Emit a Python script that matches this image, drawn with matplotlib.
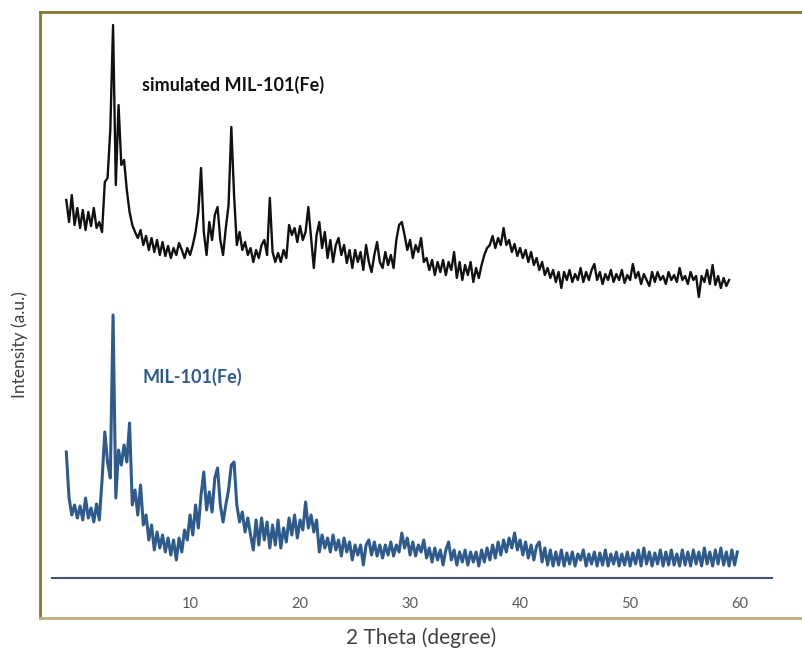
import matplotlib.pyplot as plt
from matplotlib.lines import Line2D

# 2 theta scan positions (degree)
two_theta = [
    -1.25, -1.0, -0.75, -0.5, -0.25, 0.0, 0.25, 0.5, 0.75, 1.0, 1.25, 1.5, 1.75, 2.0, 2.25, 2.5, 2.75, 3.0, 3.25, 3.5,
    3.75, 4.0, 4.25, 4.5, 4.75, 5.0, 5.25, 5.5, 5.75, 6.0, 6.25, 6.5, 6.75, 7.0, 7.25, 7.5, 7.75, 8.0, 8.25, 8.5,
    8.75, 9.0, 9.25, 9.5, 9.75, 10.0, 10.25, 10.5, 10.75, 11.0, 11.25, 11.5, 11.75, 12.0, 12.25, 12.5, 12.75, 13.0, 13.25, 13.5,
    13.75, 14.0, 14.25, 14.5, 14.75, 15.0, 15.25, 15.5, 15.75, 16.0, 16.25, 16.5, 16.75, 17.0, 17.25, 17.5, 17.75, 18.0, 18.25, 18.5,
    18.75, 19.0, 19.25, 19.5, 19.75, 20.0, 20.25, 20.5, 20.75, 21.0, 21.25, 21.5, 21.75, 22.0, 22.25, 22.5, 22.75, 23.0, 23.25, 23.5,
    23.75, 24.0, 24.25, 24.5, 24.75, 25.0, 25.25, 25.5, 25.75, 26.0, 26.25, 26.5, 26.75, 27.0, 27.25, 27.5, 27.75, 28.0, 28.25, 28.5,
    28.75, 29.0, 29.25, 29.5, 29.75, 30.0, 30.25, 30.5, 30.75, 31.0, 31.25, 31.5, 31.75, 32.0, 32.25, 32.5, 32.75, 33.0, 33.25, 33.5,
    33.75, 34.0, 34.25, 34.5, 34.75, 35.0, 35.25, 35.5, 35.75, 36.0, 36.25, 36.5, 36.75, 37.0, 37.25, 37.5, 37.75, 38.0, 38.25, 38.5,
    38.75, 39.0, 39.25, 39.5, 39.75, 40.0, 40.25, 40.5, 40.75, 41.0, 41.25, 41.5, 41.75, 42.0, 42.25, 42.5, 42.75, 43.0, 43.25, 43.5,
    43.75, 44.0, 44.25, 44.5, 44.75, 45.0, 45.25, 45.5, 45.75, 46.0, 46.25, 46.5, 46.75, 47.0, 47.25, 47.5, 47.75, 48.0, 48.25, 48.5,
    48.75, 49.0, 49.25, 49.5, 49.75, 50.0, 50.25, 50.5, 50.75, 51.0, 51.25, 51.5, 51.75, 52.0, 52.25, 52.5, 52.75, 53.0, 53.25, 53.5,
    53.75, 54.0, 54.25, 54.5, 54.75, 55.0, 55.25, 55.5, 55.75, 56.0, 56.25, 56.5, 56.75, 57.0, 57.25, 57.5, 57.75, 58.0, 58.25, 58.5,
    58.75, 59.0, 59.25, 59.5, 59.75,
]

# simulated pattern (offset upwards), arbitrary units
simulated = [
    378, 356, 383, 353, 370, 350, 368, 348, 366, 352, 370, 350, 356, 346, 396, 400, 448, 553, 393, 473,
    413, 418, 388, 366, 353, 346, 340, 348, 333, 342, 328, 340, 326, 338, 323, 336, 322, 332, 320, 330,
    323, 335, 328, 320, 330, 323, 333, 346, 366, 410, 346, 323, 356, 338, 363, 371, 338, 323, 350, 373,
    451, 383, 333, 346, 328, 336, 323, 330, 316, 328, 320, 333, 338, 323, 380, 326, 316, 325, 316, 328,
    320, 353, 343, 350, 336, 352, 338, 346, 371, 340, 310, 343, 356, 330, 346, 320, 338, 316, 333, 340,
    323, 333, 315, 328, 310, 328, 316, 326, 308, 333, 316, 306, 323, 336, 316, 310, 326, 313, 323, 310,
    338, 353, 356, 343, 328, 338, 320, 333, 326, 340, 316, 320, 308, 318, 303, 316, 306, 318, 303, 316,
    308, 326, 300, 316, 298, 313, 303, 316, 296, 310, 300, 313, 323, 330, 333, 342, 330, 340, 333, 350,
    333, 338, 326, 334, 322, 330, 320, 328, 316, 326, 313, 320, 308, 316, 303, 310, 300, 308, 296, 306,
    290, 306, 298, 308, 296, 304, 298, 310, 296, 306, 298, 308, 314, 298, 306, 294, 304, 298, 308, 296,
    304, 298, 308, 295, 303, 298, 314, 300, 306, 294, 304, 298, 292, 306, 296, 306, 298, 302, 294, 306,
    298, 303, 296, 310, 298, 302, 294, 306, 298, 302, 281, 302, 296, 308, 294, 313, 293, 302, 290, 300,
    292, 298,
]

# measured MIL-101(Fe), arbitrary units
measured = [
    126, 80, 63, 73, 60, 72, 58, 80, 60, 70, 56, 74, 58, 98, 146, 116, 100, 263, 80, 128,
    113, 133, 116, 155, 73, 88, 63, 93, 53, 63, 38, 53, 28, 46, 30, 43, 26, 40, 23, 38,
    18, 40, 26, 48, 38, 63, 43, 73, 50, 83, 106, 68, 86, 66, 100, 110, 73, 56, 73, 88,
    113, 116, 73, 56, 66, 46, 60, 43, 28, 58, 33, 60, 38, 56, 30, 53, 33, 58, 30, 50,
    36, 60, 43, 63, 40, 58, 48, 76, 50, 63, 46, 58, 26, 43, 30, 40, 26, 43, 28, 38,
    22, 40, 26, 36, 18, 33, 23, 33, 13, 33, 38, 23, 36, 22, 33, 20, 33, 23, 36, 22,
    33, 26, 45, 30, 40, 23, 36, 22, 33, 26, 38, 20, 30, 16, 30, 18, 28, 13, 28, 36,
    18, 28, 13, 26, 16, 28, 13, 26, 16, 26, 12, 28, 16, 30, 18, 33, 20, 36, 23, 38,
    26, 40, 30, 45, 28, 38, 23, 36, 20, 33, 18, 32, 36, 16, 30, 13, 28, 12, 26, 13,
    28, 12, 25, 14, 26, 12, 24, 18, 28, 12, 24, 14, 26, 12, 25, 13, 28, 12, 24, 14,
    26, 12, 24, 13, 26, 12, 25, 14, 28, 12, 30, 14, 26, 12, 25, 14, 28, 12, 26, 13,
    28, 13, 24, 12, 28, 13, 26, 12, 28, 14, 26, 12, 30, 14, 26, 12, 28, 14, 30, 13,
    26, 12, 28, 13, 26,
]

ticks = [10, 20, 30, 40, 50, 60]

plt.rcParams["font.family"] = ["Lato", "DejaVu Sans"]

fig = plt.figure(figsize=(8.02, 6.58), dpi=100)
ax = fig.add_axes([52 / 802, 1 - 578 / 658, 720 / 802, 563 / 658])

ax.plot(two_theta[:len(simulated)], simulated, color="#111111", lw=1.7)
ax.plot(two_theta[:len(measured)], measured, color="#2f5b8c", lw=2.2)

ax.text(5.64, 493, "simulated MIL-101(Fe)", fontsize=13, fontweight="bold",
        color="#111111", va="center")
ax.text(5.64, 201, "MIL-101(Fe)", fontsize=13, fontweight="bold",
        color="#2f5b8c", va="center")

ax.set_xlim(-2.55, 62.9)
ax.set_ylim(0, 563)
ax.set_xticks(ticks)
ax.set_yticks([])
ax.tick_params(axis="x", length=0, pad=14, labelsize=10.5, labelcolor="#595959")
for side in ["top", "right", "left"]:
    ax.spines[side].set_visible(False)
ax.spines["bottom"].set_color("#44546a")
ax.spines["bottom"].set_linewidth(1.5)

ax.set_xlabel("2 Theta (degree)", fontsize=15, color="#404040")
ax.xaxis.set_label_coords(0.5125, -0.088)
ax.set_ylabel("Intensity (a.u.)", fontsize=12.5, color="#404040")
ax.yaxis.set_label_coords(-0.033, 0.414)

# outer frame of the figure panel
fig.add_artist(Line2D([40 / 802, 40 / 802], [1 - 618 / 658, 1 - 12 / 658], color="#877632", lw=2))
fig.add_artist(Line2D([40 / 802, 1.0], [1 - 12 / 658, 1 - 12 / 658], color="#877632", lw=2))
fig.add_artist(Line2D([40 / 802, 1.0], [1 - 618 / 658, 1 - 618 / 658], color="#c3ad7c", lw=2))

fig.savefig("out.png", dpi=100)
